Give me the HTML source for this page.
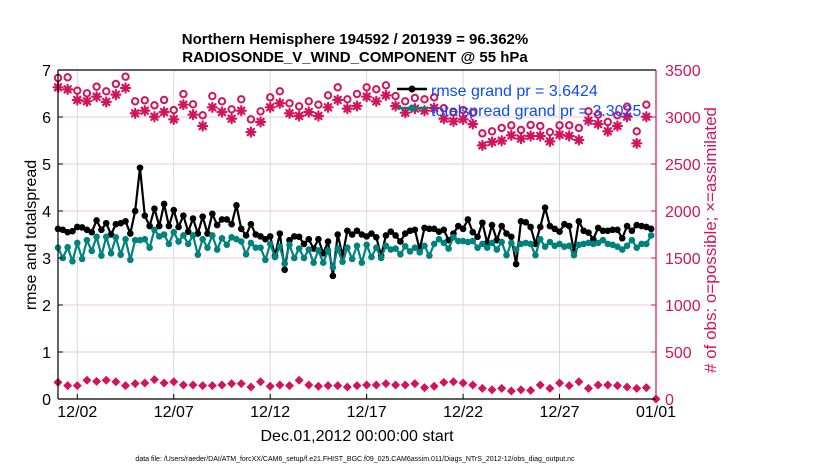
<!DOCTYPE html>
<html><head><meta charset="utf-8"><style>
html,body{margin:0;padding:0;background:#fff;}
svg{display:block;font-family:"Liberation Sans",sans-serif;}
</style></head><body>
<svg id="chart" width="830" height="470" viewBox="0 0 830 470">
<g id="grid"></g>
<g id="series"></g>
<g id="axes"></g>
<text x="355" y="44" text-anchor="middle" font-size="15" font-weight="bold">Northern Hemisphere 194592 / 201939 = 96.362%</text>
<text x="355" y="62" text-anchor="middle" font-size="15" font-weight="bold">RADIOSONDE_V_WIND_COMPONENT @ 55 hPa</text>
<text transform="translate(36,235) rotate(-90)" text-anchor="middle" font-size="16">rmse and totalspread</text>
<text transform="translate(716,240) rotate(-90)" text-anchor="middle" font-size="17" fill="#d3145a"># of obs: o=possible; ×=assimilated</text>
<text x="357" y="441" text-anchor="middle" font-size="16">Dec.01,2012 00:00:00 start</text>
<text x="355" y="461" text-anchor="middle" font-size="7">data file: /Users/raeder/DAI/ATM_forcXX/CAM6_setup/f.e21.FHIST_BGC.f09_025.CAM6assim.011/Diags_NTrS_2012-12/obs_diag_output.nc</text>
<g>
<line x1="397" y1="89" x2="427" y2="89" stroke="#000" stroke-width="2.5"/>
<circle cx="412" cy="89" r="3.5" fill="#000"/>
<text x="431" y="96" font-size="16" fill="#0a4bff">rmse grand pr = 3.6424</text>
<line x1="397" y1="108" x2="427" y2="108" stroke="#00827f" stroke-width="2.5"/>
<circle cx="412" cy="108" r="3.5" fill="#00827f"/>
<text x="431" y="116" font-size="16" fill="#0a4bff">totalspread grand pr = 3.3025</text>
</g>
</svg>
<script>
const xTickLabels = ["12/02","12/07","12/12","12/17","12/22","12/27","01/01"];
const xTickDays = [1,6,11,16,21,26,31];
const leftTicks = [0,1,2,3,4,5,6,7];
const rightTicks = [0,500,1000,1500,2000,2500,3000,3500];
const rmse = [3.62,3.60,3.55,3.57,3.66,3.65,3.60,3.55,3.80,3.60,3.74,3.50,3.72,3.74,3.78,3.52,4.00,4.92,3.90,3.68,4.05,3.68,4.15,3.68,4.02,3.66,3.90,3.56,3.84,3.52,3.88,3.52,3.94,3.70,3.82,3.82,3.72,4.12,3.62,3.48,3.72,3.50,3.46,3.40,3.46,3.05,3.52,2.75,3.38,3.46,3.45,3.30,3.40,3.20,3.40,3.10,3.35,2.62,3.50,3.05,3.58,3.50,3.58,
3.50,3.46,3.52,3.44,3.05,3.48,3.56,3.48,3.35,3.52,3.58,3.60,3.18,3.64,3.62,3.62,3.56,3.60,3.38,3.52,3.68,3.62,3.82,3.55,3.45,3.75,3.32,3.70,3.38,3.68,3.52,3.45,2.87,3.78,3.76,3.66,3.30,3.66,4.07,3.68,3.62,3.56,3.72,3.68,3.14,3.78,3.58,3.54,3.40,3.64,3.58,3.58,3.60,3.60,3.42,3.68,3.58,3.70,3.68,3.66,3.62];
const spread = [3.22,3.00,3.23,2.93,3.32,2.98,3.38,3.15,3.45,3.05,3.45,3.10,3.44,3.07,3.40,2.96,3.38,3.38,3.40,3.22,3.60,3.46,3.50,3.30,3.55,3.35,3.48,3.30,3.48,3.07,3.40,3.22,3.48,3.18,3.42,3.28,3.44,3.40,3.35,3.08,3.32,3.22,3.22,2.96,3.30,3.02,3.24,2.88,3.28,3.00,3.20,3.00,3.18,2.90,3.16,2.90,3.16,2.80,3.20,2.92,3.22,2.98,3.26,
2.90,3.28,3.02,3.22,3.00,3.26,3.18,3.20,3.08,3.25,3.14,3.22,3.12,3.26,3.05,3.30,3.40,3.32,3.20,3.44,3.36,3.36,3.34,3.36,3.22,3.30,3.22,3.32,3.18,3.34,3.06,3.32,3.18,3.30,3.32,3.30,3.06,3.40,3.24,3.34,3.26,3.30,3.24,3.26,3.06,3.28,3.30,3.32,3.30,3.32,3.38,3.30,3.28,3.24,3.18,3.26,3.38,3.22,3.30,3.30,3.48];
const possible = [3415,3422,3280,3252,3323,3273,3351,3429,3167,3177,3124,3181,3074,3244,3135,3018,3223,3167,3082,3188,2975,3060,3209,3273,3146,3114,3167,3131,3231,3316,3188,3245,3316,3295,3337,3223,3167,3202,3188,3209,3093,3053,3074,3046,2826,2848,2883,2911,2862,2915,2904,2840,2911,2911,2883,3060,3025,2947,3018,3110,2848,3131];
const assimilated = [3316,3294,3181,3167,3216,3160,3238,3309,3039,3067,3003,3053,2975,3131,3025,2904,3103,3053,2982,3067,2840,2947,3103,3146,3039,3011,3053,3011,3103,3181,3089,3117,3216,3167,3230,3117,3046,3089,3067,3096,2982,2954,2975,2925,2698,2734,2748,2805,2770,2798,2798,2741,2812,2798,2755,2961,2925,2848,2904,3003,2720,3003];
const bottomObs = [177,142,142,199,188,199,184,142,163,170,206,170,184,149,149,142,142,149,163,163,128,184,135,149,142,199,149,135,142,142,128,142,149,149,163,149,149,163,121,135,177,184,170,149,113,99,113,85,99,92,149,113,170,142,184,113,149,149,142,128,113,121,0];

const NS='http://www.w3.org/2000/svg';
const X0=58, X1=656, Y0=399, YT=70;
const MAG='#d3145a', TEAL='#00827f';
function xDay(d){return X0+(X1-X0)*d/31;}
function yL(v){return Y0-(Y0-YT)*v/7;}
function yR(v){return Y0-(Y0-YT)*v/3500;}
function mk(tag,attrs,parent){const e=document.createElementNS(NS,tag);for(const k in attrs)e.setAttribute(k,attrs[k]);parent.appendChild(e);return e;}
const grid=document.getElementById('grid'), ser=document.getElementById('series'), ax=document.getElementById('axes');

leftTicks.forEach(v=>{
  if(v>0&&v<7){const l=mk('line',{x1:X0,x2:X1,y1:yL(v),y2:yL(v),stroke:'#f5c6d6','stroke-width':1},grid);
  
  }
  const t=mk('text',{x:X0-7,y:yL(v)+6,'text-anchor':'end','font-size':16},ax);t.textContent=v;
  
  
  mk('line',{x1:X0,x2:X0+5,y1:yL(v),y2:yL(v),stroke:'#000'},ax);
});
rightTicks.forEach(v=>{
  const t=mk('text',{x:X1+9,y:yR(v)+6,'font-size':16,fill:MAG},ax);t.textContent=v;
  
  
  mk('line',{x1:X1-5,x2:X1,y1:yR(v),y2:yR(v),stroke:MAG},ax);
});
xTickDays.forEach((d,i)=>{
  const x=xDay(d);
  if(d<31){const l=mk('line',{x1:x,x2:x,y1:YT,y2:Y0,stroke:'#d8d8d8','stroke-width':1},grid);
  
  }
  mk('line',{x1:x,x2:x,y1:Y0,y2:Y0-5,stroke:'#000'},ax);
  const t=mk('text',{x:x,y:417,'text-anchor':'middle','font-size':16},ax);t.textContent=xTickLabels[i];
  
  
});
mk('line',{x1:X0,x2:X1,y1:YT,y2:YT,stroke:'#000','stroke-width':1.2},ax);
mk('line',{x1:X0,x2:X1,y1:Y0,y2:Y0,stroke:'#000','stroke-width':1.2},ax);
mk('line',{x1:X0,x2:X0,y1:YT,y2:Y0,stroke:'#000','stroke-width':1.2},ax);
mk('line',{x1:X1,x2:X1,y1:YT,y2:Y0,stroke:MAG,'stroke-width':1.2},ax);

function lineSeries(vals,color,name){
  const step=31/vals.length;
  const pts=vals.map((v,i)=>[xDay(i*step),yL(v)]);
  const p=mk('polyline',{points:pts.map(q=>q.join(',')).join(' '),fill:'none',stroke:color,'stroke-width':2.2,'stroke-linejoin':'round'},ser);
  
  
  pts.forEach(q=>{const c=mk('circle',{cx:q[0],cy:q[1],r:3.3,fill:color},ser);
    
    });
}
function star(x,y,name){
  const g=mk('g',{stroke:MAG,'stroke-width':2.2,'stroke-linecap':'round'},ser);
  
  
  const r=4.5;
  [[0,r],[r,0],[r*0.7,r*0.7],[r*0.7,-r*0.7]].forEach(d=>mk('line',{x1:x-d[0],y1:y-d[1],x2:x+d[0],y2:y+d[1]},g));
}
possible.forEach((v,i)=>{const c=mk('circle',{cx:xDay(i*0.5),cy:yR(v),r:3.2,fill:'none',stroke:MAG,'stroke-width':2},ser);
  
  });
assimilated.forEach((v,i)=>star(xDay(i*0.5),yR(v),'assimilated-obs-marker'));
bottomObs.forEach((v,i)=>{
  const x=xDay(i*0.5), y=yR(v);
  const d=mk('path',{d:`M${x-4.5},${y}L${x},${y-4.5}L${x+4.5},${y}L${x},${y+4.5}Z`,fill:MAG},ser);
  
  
});
lineSeries(rmse,'#000','rmse');
lineSeries(spread,TEAL,'totalspread');
</script>
</body></html>
